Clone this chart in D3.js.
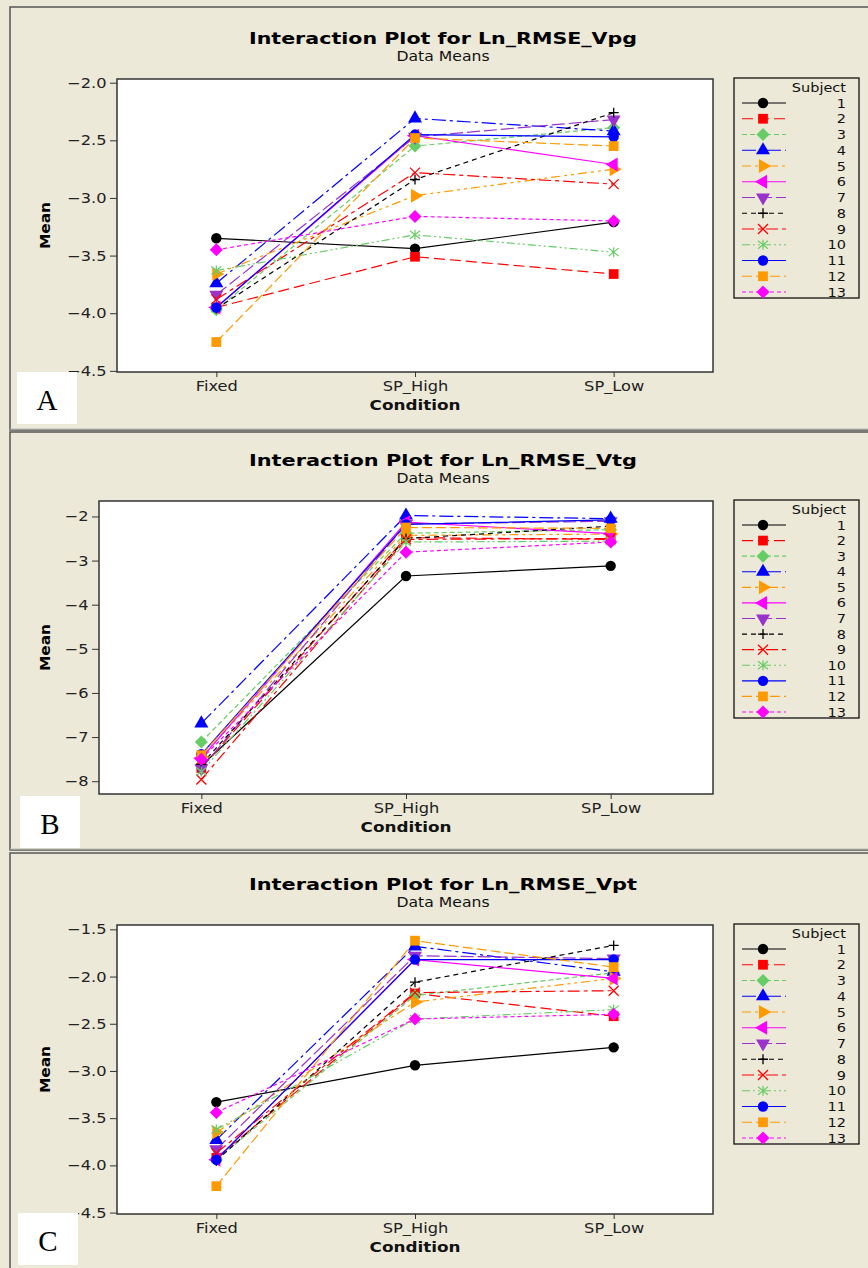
<!DOCTYPE html>
<html>
<head>
<meta charset="utf-8">
<script src="https://cdn.jsdelivr.net/npm/d3@7"></script>
<style>
  body { margin: 0; background: #ECE9D8; }
</style>
</head>
<body>
<script>
// categories and subjects
const conditions = ["Fixed", "SP_High", "SP_Low"];
const subjects = ["1", "2", "3", "4", "5", "6", "7", "8", "9", "10", "11", "12", "13"];

// means per subject: [Fixed, SP_High, SP_Low]
const vpgMeans = [
    [-3.35, -3.44, -3.21],
    [-3.95, -3.51, -3.66],
    [-3.97, -2.55, -2.39],
    [-3.74, -2.31, -2.42],
    [-3.66, -2.98, -2.75],
    [-3.95, -2.46, -2.71],
    [-3.84, -2.47, -2.32],
    [-3.96, -2.84, -2.26],
    [-3.88, -2.78, -2.88],
    [-3.63, -3.32, -3.47],
    [-3.95, -2.45, -2.47],
    [-4.25, -2.48, -2.55],
    [-3.45, -3.16, -3.20]
];
const vtgMeans = [
    [-7.65, -3.35, -3.12],
    [-7.70, -2.48, -2.52],
    [-7.11, -2.38, -2.30],
    [-6.69, -1.98, -2.05],
    [-7.45, -2.43, -2.40],
    [-7.48, -2.13, -2.39],
    [-7.71, -2.17, -2.11],
    [-7.62, -2.50, -2.22],
    [-7.96, -2.52, -2.50],
    [-7.78, -2.58, -2.56],
    [-7.39, -2.18, -2.08],
    [-7.41, -2.25, -2.27],
    [-7.50, -2.81, -2.58]
];
const vptMeans = [
    [-3.33, -2.94, -2.75],
    [-3.92, -2.18, -2.42],
    [-3.94, -2.20, -1.96],
    [-3.73, -1.68, -1.95],
    [-3.65, -2.27, -2.02],
    [-3.94, -1.82, -2.02],
    [-3.83, -1.78, -1.81],
    [-3.95, -2.06, -1.67],
    [-3.87, -2.17, -2.15],
    [-3.62, -2.45, -2.35],
    [-3.94, -1.82, -1.82],
    [-4.22, -1.62, -1.90],
    [-3.44, -2.45, -2.40]
];

// y axis ticks and ranges
const vpgTicks = [-2.0, -2.5, -3.0, -3.5, -4.0, -4.5];
const vtgTicks = [-2, -3, -4, -5, -6, -7, -8];
const vptTicks = [-1.5, -2.0, -2.5, -3.0, -3.5, -4.0, -4.5];
const vpgDomain = [-4.51, -1.968];
const vtgDomain = [-8.29, -1.65];
const vptDomain = [-4.515, -1.454];

const titles = ["Interaction Plot for Ln_RMSE_Vpg", "Interaction Plot for Ln_RMSE_Vtg", "Interaction Plot for Ln_RMSE_Vpt"];
const panelLabels = ["A", "B", "C"];

// minitab style per subject
var colors = ["#000000", "#ff0000", "#66cc66", "#0000ff", "#ff9900", "#ff00ff", "#9933cc",
              "#000000", "#ff0000", "#66cc66", "#0000ff", "#ff9900", "#ff00ff"];
var dashes = [null, "11,5", "5,3", "14,4,3,4", "9,4,3,4,3,4", null, "13,4",
              "5,4", "12,4,4,4", "8,3,2,3,2,3", null, "10,4", "4,3"];
var shapes = ["circle", "square", "diamond", "up", "right", "left", "down",
              "plus", "x", "star", "circle", "square", "diamond"];

var panels = [
    {means: vpgMeans, ticks: vpgTicks, fmt: ".1f", domain: vpgDomain,
     frame: [7, 430], plot: {x0: 117, x1: 713, y0: 79, y1: 372}, legend: [78, 298], box: [17, 372]},
    {means: vtgMeans, ticks: vtgTicks, fmt: "d", domain: vtgDomain,
     frame: [432, 850], plot: {x0: 99, x1: 713, y0: 501, y1: 794}, legend: [500, 718], box: [20, 796]},
    {means: vptMeans, ticks: vptTicks, fmt: ".1f", domain: vptDomain,
     frame: [853, 1275], plot: {x0: 117, x1: 713, y0: 925, y1: 1214}, legend: [924, 1144], box: [18, 1213]}
];

var W = 868, H = 1268,
    SX = 1.16,  // the original is a bit wider than tall
    font = "DejaVu Sans, Verdana, sans-serif";

var svg = d3.select("body").append("svg")
    .attr("width", W)
    .attr("height", H)
    .style("font-family", font);

svg.append("rect").attr("width", W).attr("height", H).attr("fill", "#ECE9D8");

function label(g, x, y, txt, size, anchor, bold) {
    return g.append("text")
        .attr("transform", "translate(" + x + "," + y + ") scale(" + SX + ",1)")
        .attr("text-anchor", anchor)
        .attr("font-size", size)
        .attr("font-weight", bold ? "bold" : null)
        .attr("fill", "#111")
        .text(txt);
}

function drawMarker(g, shape, color) {
    if (shape == "plus") {
        g.append("path").attr("d", "M-5,0H5M0,-5V5").attr("stroke", color).attr("stroke-width", 1.3).attr("fill", "none");
        return;
    }
    if (shape == "x") {
        g.append("path").attr("d", "M-5,-5L5,5M-5,5L5,-5").attr("stroke", color).attr("stroke-width", 1.3).attr("fill", "none");
        return;
    }
    if (shape == "star") {
        g.append("path").attr("d", "M-5,-4L5,4M-5,4L5,-4M0,-5V5").attr("stroke", color).attr("stroke-width", 1.2).attr("fill", "none");
        return;
    }
    if (shape == "diamond") {
        g.append("path").attr("d", "M0,-6.5L6.5,0L0,6.5L-6.5,0Z").attr("fill", color);
        return;
    }
    var sym = d3.symbol();
    var rot = 0;
    if (shape == "circle") sym.type(d3.symbolCircle).size(85);
    else if (shape == "square") sym.type(d3.symbolSquare).size(95);
    else {
        sym.type(d3.symbolTriangle).size(85);
        rot = {up: 0, right: 90, down: 180, left: -90}[shape];
    }
    g.append("path").attr("d", sym()).attr("fill", color)
        .attr("transform", rot ? "rotate(" + rot + ")" : null);
}

panels.forEach(function(p, pi) {
    var g = svg.append("g");
    // panel frame
    g.append("rect")
        .attr("x", 10).attr("y", p.frame[0])
        .attr("width", W + 10).attr("height", p.frame[1] - p.frame[0])
        .attr("fill", "#ECE9D8")
        .attr("stroke", "#555").attr("stroke-width", 1.5);
    g.append("line")
        .attr("x1", 10).attr("x2", W).attr("y1", p.frame[1] - 1).attr("y2", p.frame[1] - 1)
        .attr("stroke", "#bbb").attr("stroke-width", 1);

    var x = d3.scalePoint().domain(conditions).range([p.plot.x0, p.plot.x1]).padding(0.5);
    var y = d3.scaleLinear().domain(p.domain).range([p.plot.y1, p.plot.y0]);

    // titles
    g.append("text")
        .attr("x", 443).attr("y", p.plot.y0 - 35)
        .attr("text-anchor", "middle")
        .attr("font-size", 15.5).attr("font-weight", "bold")
        .attr("textLength", 388).attr("lengthAdjust", "spacingAndGlyphs")
        .text(titles[pi]);
    label(g, 443, p.plot.y0 - 18, "Data Means", 13.5, "middle");

    g.append("rect")
        .attr("x", p.plot.x0).attr("y", p.plot.y0)
        .attr("width", p.plot.x1 - p.plot.x0).attr("height", p.plot.y1 - p.plot.y0)
        .attr("fill", "#fff").attr("stroke", "#333").attr("stroke-width", 1.5);

    var yAxis = g.append("g")
        .attr("transform", "translate(" + p.plot.x0 + ",0)")
        .call(d3.axisLeft(y).tickValues(p.ticks).tickFormat(d3.format(p.fmt)).tickSize(7).tickSizeOuter(0));
    var xAxis = g.append("g")
        .attr("transform", "translate(0," + p.plot.y1 + ")")
        .call(d3.axisBottom(x).tickSize(5).tickSizeOuter(0));
    [yAxis, xAxis].forEach(function(a) {
        a.select(".domain").remove();
        a.selectAll("line").attr("stroke", "#333");
        a.selectAll("text").attr("font-size", 14).attr("fill", "#222")
            .attr("font-family", font)
            .attr("transform", "scale(" + SX + ",1)");
    });
    yAxis.selectAll("text").attr("x", -9);
    xAxis.selectAll("text").attr("y", 9);

    g.append("text")
        .attr("transform", "translate(50," + ((p.plot.y0 + p.plot.y1) / 2) + ") rotate(-90) scale(1.1,1)")
        .attr("text-anchor", "middle")
        .attr("font-size", 14).attr("font-weight", "bold")
        .text("Mean");
    label(g, (p.plot.x0 + p.plot.x1) / 2, p.plot.y1 + 38, "Condition", 14.5, "middle", true);

    // series
    var line = d3.line().x(function(d, i) { return x(conditions[i]); }).y(function(d) { return y(d); });
    var lines = g.append("g");
    p.means.forEach(function(m, si) {
        lines.append("path").datum(m)
            .attr("d", line)
            .attr("fill", "none")
            .attr("stroke", colors[si])
            .attr("stroke-width", 1.2)
            .attr("stroke-dasharray", dashes[si]);
    });
    p.means.forEach(function(m, si) {
        m.forEach(function(v, ci) {
            var mg = lines.append("g").attr("transform", "translate(" + x(conditions[ci]) + "," + y(v) + ")");
            drawMarker(mg, shapes[si], colors[si]);
        });
    });

    // legend
    var lg = g.append("g");
    lg.append("rect")
        .attr("x", 734).attr("y", p.legend[0])
        .attr("width", 125).attr("height", p.legend[1] - p.legend[0])
        .attr("fill", "none").attr("stroke", "#111").attr("stroke-width", 1.3);
    label(lg, 846, p.legend[0] + 14, "Subject", 12.5, "end");
    var step = (p.legend[1] - p.legend[0] - 31) / 12;
    subjects.forEach(function(s, si) {
        var ly = p.legend[0] + 25 + si * step;
        lg.append("line")
            .attr("x1", 742).attr("x2", 786).attr("y1", ly).attr("y2", ly)
            .attr("stroke", colors[si]).attr("stroke-width", 1.2)
            .attr("stroke-dasharray", dashes[si]);
        drawMarker(lg.append("g").attr("transform", "translate(763," + ly + ")"), shapes[si], colors[si]);
        label(lg, 846, ly + 4.5, s, 12.5, "end");
    });

    // panel letter
    g.append("rect")
        .attr("x", p.box[0]).attr("y", p.box[1])
        .attr("width", 60).attr("height", 52)
        .attr("fill", "#fff");
    g.append("text")
        .attr("x", p.box[0] + 30).attr("y", p.box[1] + 38)
        .attr("text-anchor", "middle")
        .style("font-family", "Liberation Serif, 'DejaVu Serif', serif")
        .attr("font-size", 29)
        .text(panelLabels[pi]);
});
</script>
</body>
</html>
